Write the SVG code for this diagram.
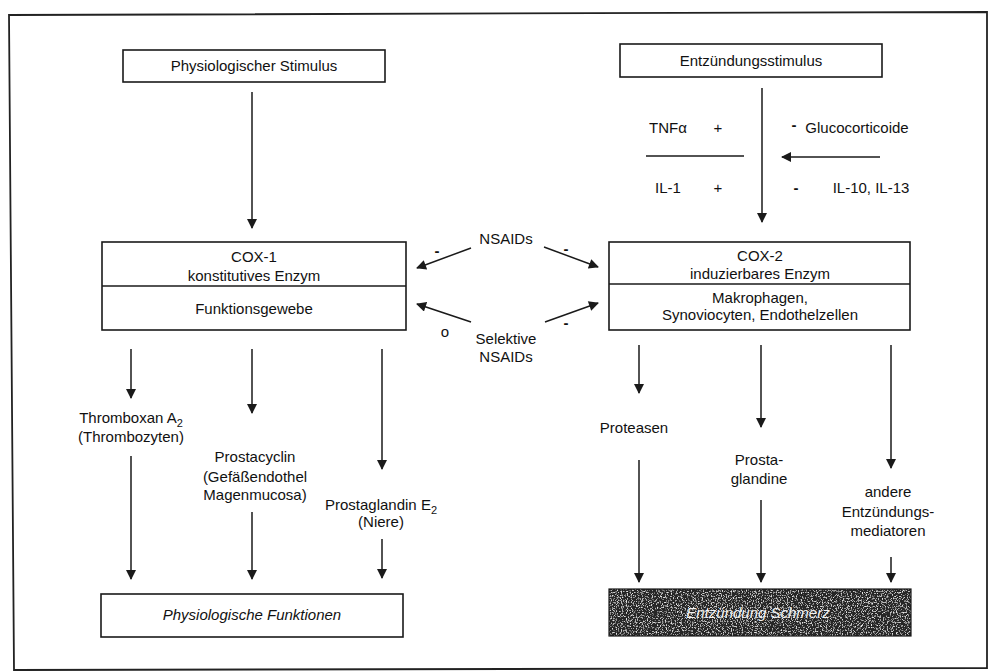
<svg xmlns="http://www.w3.org/2000/svg" width="989" height="672" viewBox="0 0 989 672">
<defs>
<style>
text{font-family:"Liberation Sans",Arial,sans-serif;font-size:15px;fill:#111;text-anchor:middle}
.box{fill:#fff;stroke:#1a1a1a;stroke-width:1.6}
.ln{stroke:#1a1a1a;stroke-width:1.5;fill:none}
.arr{stroke:#1a1a1a;stroke-width:1.5;fill:none;marker-end:url(#ah)}
.it{font-style:italic}
.sub{font-size:11px}
.mn{font-weight:bold}
</style>
<marker id="ah" viewBox="0 0 10 10" refX="9" refY="5" markerWidth="11" markerHeight="10" markerUnits="userSpaceOnUse" orient="auto">
<path d="M0,0 L10,5 L0,10 Z" fill="#1a1a1a"/>
</marker>
<filter id="grain" x="609" y="589" width="302" height="47" filterUnits="userSpaceOnUse">
<feTurbulence type="fractalNoise" baseFrequency="0.8" numOctaves="2" seed="4" result="n"/>
<feColorMatrix in="n" type="matrix" values="0 0 0 0 0.8  0 0 0 0 0.8  0 0 0 0 0.8  4 0 0 0 -2.1" result="speck"/>
<feFlood flood-color="#262626" result="bg"/>
<feComposite in="speck" in2="bg" operator="over"/>
</filter>
</defs>
<rect width="989" height="672" fill="#fff"/>
<path d="M9,15 L987,12 L987,668 L14,670 Z" fill="none" stroke="#222" stroke-width="1.8"/>

<g id="n-phys-stim">
<rect class="box" x="123" y="50" width="262" height="32"/>
<text x="254" y="71">Physiologischer Stimulus</text>
</g>
<g id="n-entz-stim">
<rect class="box" x="620" y="44" width="262" height="33"/>
<text x="751" y="66">Entzündungsstimulus</text>
</g>

<g id="n-modulators">
<text x="668" y="133">TNFα</text>
<text x="718" y="133">+</text>
<text x="668" y="193">IL-1</text>
<text x="718" y="193">+</text>
<text class="mn" x="794" y="130">-</text>
<text x="857" y="133">Glucocorticoide</text>
<text class="mn" x="796" y="193">-</text>
<text x="871" y="193">IL-10, IL-13</text>
</g>

<g id="n-cox1">
<rect class="box" x="102" y="242" width="304" height="88"/>
<line class="ln" x1="102" y1="286" x2="406" y2="286"/>
<text x="254" y="262">COX-1</text>
<text x="254" y="281">konstitutives Enzym</text>
<text x="254" y="314">Funktionsgewebe</text>
</g>
<g id="n-cox2">
<rect class="box" x="609" y="242" width="301" height="88"/>
<line class="ln" x1="609" y1="284" x2="910" y2="284"/>
<text x="760" y="261">COX-2</text>
<text x="760" y="279">induzierbares Enzym</text>
<text x="760" y="303">Makrophagen,</text>
<text x="760" y="320">Synoviocyten, Endothelzellen</text>
</g>

<g id="n-nsaids">
<text x="506" y="244">NSAIDs</text>
</g>
<g id="n-sel-nsaids">
<text x="506" y="344">Selektive</text>
<text x="506" y="362">NSAIDs</text>
</g>

<g id="n-thromboxan">
<text x="131" y="423">Thromboxan A<tspan class="sub" dy="4">2</tspan></text>
<text x="131" y="442">(Thrombozyten)</text>
</g>
<g id="n-prostacyclin">
<text x="255" y="462">Prostacyclin</text>
<text x="255" y="482">(Gefäßendothel</text>
<text x="255" y="500">Magenmucosa)</text>
</g>
<g id="n-pge2">
<text x="381" y="510">Prostaglandin E<tspan class="sub" dy="4">2</tspan></text>
<text x="381" y="527">(Niere)</text>
</g>

<g id="n-proteasen">
<text x="634" y="433">Proteasen</text>
</g>
<g id="n-prostaglandine">
<text x="759" y="465">Prosta-</text>
<text x="759" y="484">glandine</text>
</g>
<g id="n-andere">
<text x="888" y="497">andere</text>
<text x="888" y="517">Entzündungs-</text>
<text x="888" y="536">mediatoren</text>
</g>

<g id="n-phys-funk">
<rect class="box" x="101" y="594" width="302" height="43"/>
<text class="it" x="252" y="620">Physiologische Funktionen</text>
</g>
<g id="n-entz-schmerz">
<rect x="609" y="589" width="302" height="47" filter="url(#grain)"/>
<rect x="609" y="589" width="302" height="47" fill="none" stroke="#1a1a1a" stroke-width="1.2"/>
<text class="it" x="758" y="618" style="fill:#f2f2f2">Entzündung Schmerz</text>
</g>

<g id="connectors">
<line class="arr" x1="252" y1="92" x2="252" y2="228"/>
<line class="arr" x1="762" y1="88" x2="762" y2="222"/>
<line class="ln" x1="646" y1="156" x2="744" y2="156"/>
<line class="arr" x1="880" y1="157" x2="782" y2="157"/>

<line class="arr" x1="471" y1="248" x2="417" y2="268"/>
<line class="arr" x1="544" y1="247" x2="598" y2="267"/>
<line class="arr" x1="471" y1="322" x2="417" y2="304"/>
<line class="arr" x1="545" y1="322" x2="598" y2="303"/>
<text class="mn" x="437" y="256">-</text>
<text class="mn" x="566" y="254">-</text>
<text x="445" y="337">o</text>
<text class="mn" x="566" y="328">-</text>

<line class="arr" x1="131" y1="349" x2="131" y2="398"/>
<line class="arr" x1="252" y1="349" x2="252" y2="413"/>
<line class="arr" x1="382" y1="349" x2="382" y2="469"/>
<line class="arr" x1="131" y1="456" x2="131" y2="579"/>
<line class="arr" x1="252" y1="512" x2="252" y2="579"/>
<line class="arr" x1="382" y1="539" x2="382" y2="578"/>

<line class="arr" x1="639" y1="345" x2="639" y2="393"/>
<line class="arr" x1="761" y1="345" x2="761" y2="427"/>
<line class="arr" x1="891" y1="345" x2="891" y2="468"/>
<line class="arr" x1="639" y1="460" x2="639" y2="582"/>
<line class="arr" x1="761" y1="500" x2="761" y2="582"/>
<line class="arr" x1="891" y1="557" x2="891" y2="582"/>
</g>
</svg>
